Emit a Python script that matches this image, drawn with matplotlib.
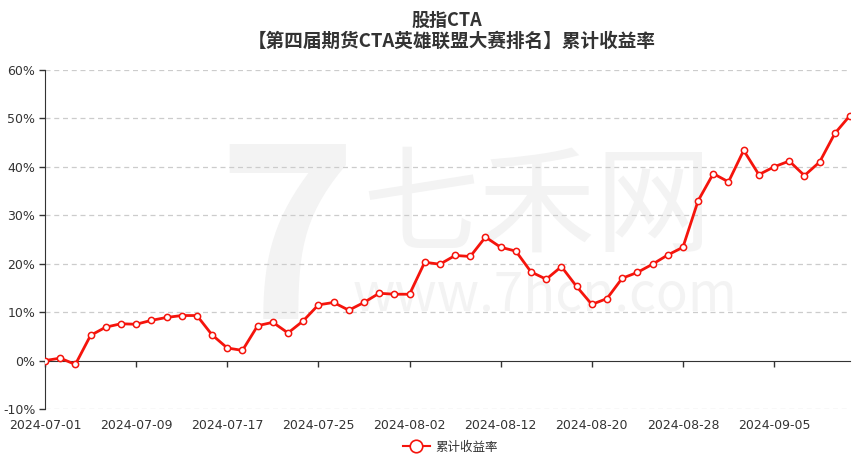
import matplotlib
matplotlib.use("Agg")
import matplotlib.pyplot as plt
from matplotlib.lines import Line2D
import numpy as np

plt.rcParams['font.family'] = ['Noto Sans CJK SC', 'DejaVu Sans']

dates = ["2024-07-01","2024-07-02","2024-07-03","2024-07-04","2024-07-05","2024-07-08","2024-07-09",
         "2024-07-10","2024-07-11","2024-07-12","2024-07-15","2024-07-16","2024-07-17","2024-07-18",
         "2024-07-19","2024-07-22","2024-07-23","2024-07-24","2024-07-25","2024-07-26","2024-07-29",
         "2024-07-30","2024-07-31","2024-08-01","2024-08-02","2024-08-05","2024-08-06","2024-08-07",
         "2024-08-08","2024-08-09","2024-08-12","2024-08-13","2024-08-14","2024-08-15","2024-08-16",
         "2024-08-19","2024-08-20","2024-08-21","2024-08-22","2024-08-23","2024-08-26","2024-08-27",
         "2024-08-28","2024-08-29","2024-08-30","2024-09-02","2024-09-03","2024-09-04","2024-09-05",
         "2024-09-06","2024-09-09","2024-09-10","2024-09-11","2024-09-12"]
returns = [0.0, 0.5, -0.8, 5.2, 6.9, 7.6, 7.5, 8.3, 8.9, 9.3, 9.3, 5.3, 2.6, 2.1, 7.2, 7.9, 5.7,
           8.2, 11.5, 12.0, 10.4, 12.0, 13.9, 13.7, 13.7, 20.3, 19.9, 21.7, 21.5, 25.5, 23.4, 22.6,
           18.3, 16.8, 19.4, 15.3, 11.6, 12.8, 17.0, 18.2, 19.9, 21.8, 23.4, 33.0, 38.6, 36.9, 43.4,
           38.4, 40.0, 41.2, 38.2, 41.0, 46.9, 50.6]
yticks = [-10, 0, 10, 20, 30, 40, 50, 60]
title_line1 = "股指CTA"
title_line2 = "【第四届期货CTA英雄联盟大赛排名】累计收益率"
series_name = "累计收益率"

W, H = 862, 463
fig = plt.figure(figsize=(W/100, H/100), dpi=100)
ax = fig.add_axes([45/W, 1-409/H, (850-45)/W, (409-70)/H])
ax.patch.set_alpha(0)

# watermark (behind the data)
wm = '#f3f3f3'
ax.text(537/W, 1-210/H, "七禾网", fontsize=84, color=wm, ha='center', va='center',
        transform=fig.transFigure, zorder=0.2, clip_on=False)
ax.text(545/W, 1-295/H, "www.7hcn.com", fontsize=38, color=wm, ha='center', va='center',
        transform=fig.transFigure, zorder=0.2, clip_on=False)
ax.text(287/W, 1-250/H, "7", fontsize=170, color=wm, ha='center', va='center',
        fontweight='bold', transform=fig.transFigure, zorder=0.2, clip_on=False)

x = np.arange(len(dates))
red = '#f5140c'
ax.plot(x, returns, color=red, lw=2, marker='o', markersize=4.5,
        markerfacecolor='white', markeredgecolor=red, markeredgewidth=1.1, zorder=3)

ax.set_xlim(0, len(dates)-1)
ax.set_ylim(-10, 60)
ax.set_yticks(yticks)
ax.set_yticklabels([f"{v}%" for v in yticks], family='DejaVu Sans')

for v in yticks:
    if v != 0:
        ax.axhline(v, color='#cccccc', lw=0.9, ls=(0, (4, 3)), zorder=1)

ax.spines['top'].set_visible(False)
ax.spines['right'].set_visible(False)
ax.spines['left'].set_color('#333333')
ax.spines['bottom'].set_color('#333333')
ax.spines['bottom'].set_position(('data', 0))
ax.spines['bottom'].set_zorder(2)

tick_idx = list(range(0, len(dates), 6))
ax.set_xticks(tick_idx)
ax.set_xticklabels([dates[i] for i in tick_idx], family='DejaVu Sans')
ax.tick_params(axis='x', length=4, width=1, color='#333333', pad=38, labelsize=9, labelcolor='#333333')
ax.tick_params(axis='y', length=4, width=1, color='#333333', pad=3, labelsize=9, labelcolor='#333333')

fig.text(447/W, 1-20.5/H, title_line1, ha='center', va='center', fontsize=13, fontweight='bold',
         color='#333333')
fig.text(452/W, 1-41.5/H, title_line2, ha='center', va='center', fontsize=13.4, fontweight='bold',
         color='#333333')

handle = Line2D([0], [0], color=red, lw=1.5, marker='o', markersize=9,
                markerfacecolor='white', markeredgecolor=red, markeredgewidth=1.2)
fig.legend([handle], [series_name], loc='center', bbox_to_anchor=(450/W, 1-447/H),
           frameon=False, fontsize=9, handlelength=2.2, handletextpad=0.4, labelcolor='#333333')

fig.savefig("out.png", dpi=100)
